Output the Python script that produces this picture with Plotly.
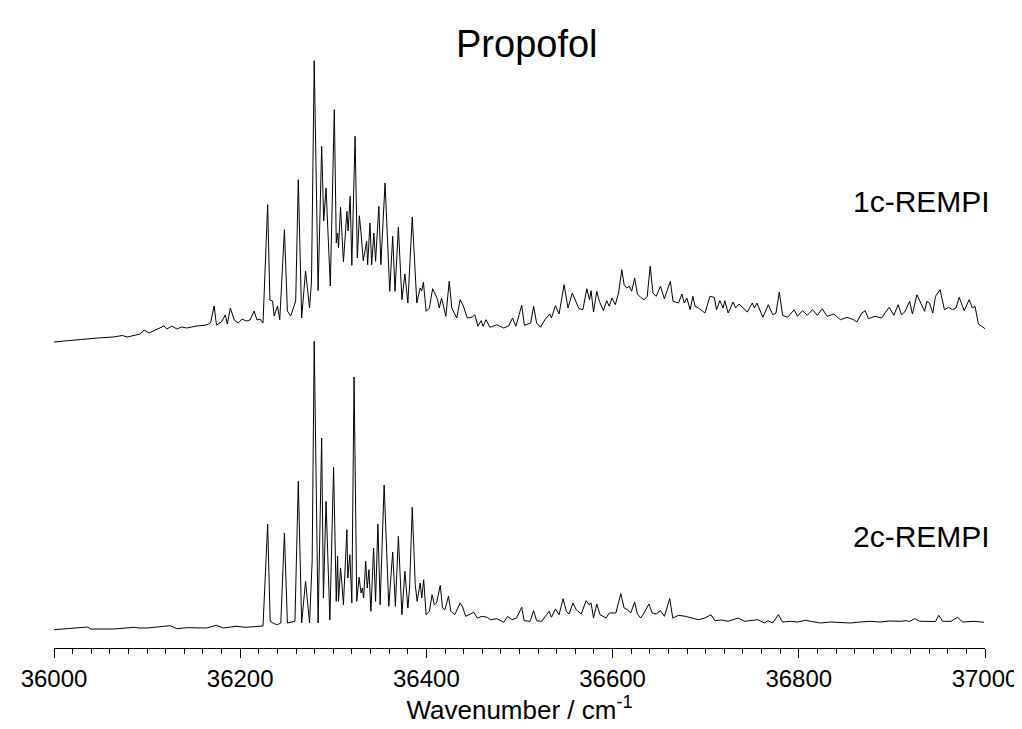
import plotly.graph_objects as go

# ---- data (wavenumber / cm-1, intensity in arbitrary units) ----
wn_1c = [36000, 36014.9, 36028.7, 36046.8, 36063.8, 36073.4, 36078.7, 36092.6, 36096.8, 36102.1,
         36110.6, 36118.1, 36121.3, 36126.6, 36131.9, 36137.2, 36142.5, 36153.2, 36163.8, 36168.1,
         36172.0, 36174.5, 36179.8, 36184.0, 36186.2, 36189.4, 36193.6, 36197.9, 36202.1, 36206.4,
         36210.6, 36214.9, 36218.1, 36221.3, 36224.5, 36229.5, 36231.9, 36234.8, 36236.5, 36240.1,
         36242.5, 36247.5, 36250.7, 36254.2, 36257.8, 36259.6, 36262.4, 36266.0, 36270.2, 36274.5,
         36276.6, 36279.5, 36283.7, 36287.5, 36289.7, 36292.2, 36296.8, 36301.1, 36303.2, 36304.6,
         36305.6, 36307.8, 36310.9, 36314.6, 36315.9, 36318.1, 36319.9, 36323.4, 36325.8, 36328.0,
         36329.8, 36332.2, 36335.8, 36336.9, 36339.4, 36341.2, 36343.6, 36345.4, 36348.9, 36351.1,
         36355.6, 36360.6, 36363.8, 36366.3, 36369.9, 36373.7, 36376.9, 36380.1, 36384.8, 36389.7,
         36393.3, 36395.0, 36396.8, 36399.7, 36403.2, 36406.7, 36410.3, 36412.0, 36413.8, 36416.3,
         36420.9, 36424.5, 36427.3, 36432.6, 36436.2, 36439.7, 36443.9, 36449.2, 36452.1, 36455.3,
         36458.8, 36460.9, 36464.1, 36468.1, 36475.8, 36483.0, 36488.3, 36492.5, 36496.1, 36502.4,
         36505.3, 36512.0, 36515.2, 36518.4, 36522.6, 36527.3, 36532.6, 36534.3, 36538.6, 36542.5,
         36547.9, 36552.1, 36556.7, 36560.9, 36563.8, 36568.1, 36572.3, 36575.2, 36576.9, 36579.5,
         36583.0, 36585.8, 36590.1, 36593.6, 36596.5, 36599.2, 36602.9, 36606.4, 36609.9, 36612.4,
         36615.2, 36617.8, 36620.5, 36623.7, 36626.6, 36630.1, 36633.7, 36637.2, 36640.4, 36643.3,
         36646.8, 36651.4, 36655.6, 36662.0, 36664.9, 36670.9, 36674.4, 36676.9, 36679.8, 36683.3,
         36686.2, 36688.6, 36692.2, 36699.2, 36704.6, 36709.2, 36711.7, 36715.2, 36718.8, 36720.5,
         36724.1, 36729.4, 36732.2, 36735.8, 36741.8, 36744.7, 36750.0, 36752.4, 36755.0, 36761.4,
         36767.3, 36772.0, 36775.5, 36779.0, 36782.6, 36788.0, 36795.0, 36798.6, 36803.9, 36809.2,
         36814.6, 36819.9, 36825.2, 36830.5, 36837.5, 36844.7, 36851.8, 36858.8, 36862.4, 36867.7,
         36871.3, 36874.8, 36881.9, 36889.0, 36892.5, 36897.1, 36902.1, 36906.7, 36910.3, 36913.8,
         36919.1, 36922.0, 36926.9, 36931.6, 36935.1, 36937.5, 36940.4, 36943.9, 36946.8, 36951.8,
         36956.4, 36960.9, 36965.2, 36968.8, 36972.3, 36977.6, 36983.0, 36986.5, 36989.3, 36992.9,
         36997.1, 37000]
int_1c = [1, 2, 3.5, 5, 6, 7.5, 6, 9, 13, 10,
          14, 17, 14, 17, 14, 16, 15, 17, 18, 20,
          37, 18, 21, 28, 19, 35, 23, 20, 24, 22,
          23, 32, 23, 24, 20, 138.3, 43, 42, 27, 37,
          23.3, 113.3, 32, 27, 37, 42, 163.3, 25, 72, 35,
          62, 282.3, 52.3, 196.7, 122, 155, 57, 233.3, 100, 110,
          95, 135.7, 81, 131.7, 112, 146.7, 77.7, 206.7, 85, 127.3,
          110, 82.3, 101.7, 78.3, 120, 78.3, 110, 81.7, 136.7, 78.3,
          160, 51.7, 106.7, 51.7, 115.7, 43.3, 69, 40, 126, 40,
          55, 52, 61, 31.7, 35, 54.3, 47, 43.3, 35, 45,
          26.7, 61.7, 35, 25, 43.3, 37, 25, 26, 28.3, 16.7,
          22.3, 16.7, 23.3, 15.7, 18.3, 15, 17, 25, 16.7, 37.7,
          17.7, 20, 36.7, 20, 15.7, 23.3, 29, 25, 37.3, 29,
          58.3, 35, 50, 40, 34.3, 33.3, 54.3, 43.3, 52.3, 31,
          51.7, 41.7, 32.3, 42.3, 36.7, 45, 38.3, 50, 73.3, 58.3,
          55, 56.7, 51.7, 65, 49, 45.7, 43.3, 46.7, 76.7, 50,
          46.7, 56.7, 44.3, 61.7, 41.7, 40, 49, 40, 45, 33.3,
          46.7, 36.7, 35, 30, 46.7, 45.7, 33.3, 42.3, 35, 42.3,
          30, 41, 35, 39, 33.3, 31, 40, 35, 40, 25.7,
          38.3, 28.3, 30, 51, 27.7, 25.7, 33.3, 26.7, 32.3, 27.7,
          33.3, 27.7, 34.3, 26.7, 29, 23.3, 25.7, 23.3, 21, 30,
          32.3, 24.3, 26.7, 25, 30, 35.7, 27.7, 38.3, 28.3, 31,
          41.7, 29, 48.3, 38.3, 31.7, 41.7, 40, 30, 46.7, 53.3,
          33.3, 35.7, 33.3, 35, 45.7, 32.3, 43.3, 35, 36.7, 19,
          16.7, 14.3]

wn_2c = [36000, 36036.2, 36039.4, 36064.6, 36085.8, 36091.2, 36100, 36124.8, 36131.9, 36142.5,
         36163.8, 36174.5, 36181.6, 36195.7, 36206.4, 36217.0, 36224.5, 36229.5, 36232.2, 36236.5,
         36240.1, 36243.6, 36247.5, 36250.7, 36256.1, 36258.8, 36262.4, 36266.0, 36270.2, 36274.5,
         36277.3, 36279.5, 36283.7, 36287.5, 36289.4, 36292.2, 36296.3, 36300.3, 36303.2, 36304.6,
         36305.6, 36307.8, 36309.2, 36310.9, 36314.6, 36315.6, 36317.8, 36319.9, 36322.3, 36325.2,
         36327.7, 36329.8, 36331.2, 36332.6, 36334.8, 36336.5, 36338.3, 36340.4, 36343.3, 36345.4,
         36347.9, 36350.3, 36354.6, 36359.6, 36363.8, 36366.7, 36369.9, 36373.7, 36376.9, 36380.1,
         36381.9, 36384.8, 36388.0, 36390.1, 36393.3, 36395.0, 36397.1, 36399.7, 36403.2, 36406.1,
         36408.5, 36410.9, 36414.9, 36417.3, 36419.9, 36423.7, 36426.3, 36430.5, 36436.2, 36438.6,
         36442.2, 36445.7, 36451.1, 36454.6, 36459.9, 36465.2, 36468.8, 36475.8, 36483.0, 36487.2,
         36491.8, 36496.8, 36502.4, 36505.0, 36511.4, 36515.2, 36518.4, 36523.7, 36529.0, 36531.9,
         36534.3, 36538.6, 36542.5, 36546.8, 36550.3, 36553.2, 36557.4, 36560.9, 36566.3, 36571.6,
         36574.5, 36576.9, 36579.5, 36583.0, 36586.5, 36592.9, 36596.5, 36603.5, 36608.8, 36612.4,
         36615.9, 36619.5, 36623.7, 36626.6, 36630.1, 36633.7, 36639.0, 36642.5, 36646.8, 36651.4,
         36655.6, 36661.4, 36664.6, 36670.9, 36678.0, 36685.1, 36692.2, 36699.2, 36705.6, 36709.9,
         36717.0, 36724.1, 36734.8, 36741.8, 36748.9, 36756.0, 36763.1, 36766.7, 36772.0, 36778.0,
         36782.6, 36791.5, 36798.6, 36807.4, 36812.7, 36823.4, 36834.0, 36844.7, 36855.3, 36865.9,
         36876.6, 36887.2, 36897.8, 36908.5, 36915.6, 36919.1, 36924.4, 36929.8, 36940.4, 36946.8,
         36950.3, 36954.6, 36963.5, 36970.5, 36975.8, 36988.3, 36998.9]
int_2c = [0.3, 3, 1, 1, 2.7, 2, 2, 4.3, 1.3, 2.3,
          2, 4.7, 2, 3.7, 2.7, 3.3, 4, 106, 8.7, 6.3,
          5.3, 7, 97, 7, 8, 8.7, 148.7, 7, 48.7, 7,
          69, 288.7, 7, 192, 32, 128.7, 10, 162.7, 28.7, 73.7,
          28.7, 62, 47, 25.3, 100.3, 52, 75.3, 27, 253, 28.7,
          52.7, 37, 42, 32, 68.7, 42, 60.3, 18.7, 82, 28.7,
          106, 25.3, 145, 23.7, 78, 23.7, 93.7, 15.3, 58.7, 22,
          42, 122.7, 45.3, 28.7, 47, 32, 50.3, 15.3, 18.7, 35.3,
          25.3, 27, 44.7, 22, 20.3, 33.7, 18.7, 15.3, 27, 23.7,
          13.7, 15.3, 17.7, 12, 13.7, 12.7, 10.3, 11.3, 7.7, 13.7,
          10.3, 12, 22.7, 9.3, 8.7, 19.3, 9.3, 8.7, 15.3, 18.7,
          12.7, 21, 15.3, 31.3, 18.7, 16, 27, 20.3, 16, 29.3,
          25.3, 27, 12, 26, 15.3, 12, 17, 17, 36.3, 22,
          20.3, 17, 28, 16, 12, 17, 26, 17, 16, 19.3,
          13.7, 31.3, 12, 14.7, 13.7, 12, 10.3, 12, 15.3, 9.3,
          10, 8.7, 12, 8.7, 9.3, 10.3, 7, 9.3, 7, 15.3,
          8, 8.7, 8, 9.7, 8.7, 7, 8, 7.7, 7, 8,
          8.7, 8, 9, 8.7, 9.3, 8.5, 11.3, 8.7, 9, 8.5,
          14.7, 8.7, 8.7, 12.7, 8, 8.7, 7.7]

offset_1c = 287  # vertical offset of the 1c-REMPI trace

FONT = "Arial, Liberation Sans, sans-serif"

fig = go.Figure()
fig.add_trace(go.Scatter(x=wn_1c, y=[v + offset_1c for v in int_1c], mode="lines",
                         line=dict(color="black", width=1), hoverinfo="skip"))
fig.add_trace(go.Scatter(x=wn_2c, y=int_2c, mode="lines",
                         line=dict(color="black", width=1), hoverinfo="skip"))

fig.update_layout(
    width=1022, height=729,
    margin=dict(l=46, r=36, t=40, b=89),
    plot_bgcolor="white", paper_bgcolor="white",
    showlegend=False,
    font=dict(family=FONT, color="black"),
)
fig.update_xaxes(
    range=[36000, 37000], showline=True, linecolor="black", linewidth=1,
    ticks="outside", ticklen=9, tickwidth=1, tickcolor="black",
    tick0=36000, dtick=200, tickformat="d",
    minor=dict(dtick=20, ticks="outside", ticklen=5, tickwidth=1, tickcolor="black"),
    showgrid=False, zeroline=False,
    tickfont=dict(size=24, family=FONT, color="black"),
    title=dict(text="Wavenumber / cm<sup>-1</sup>", font=dict(size=26, family=FONT, color="black"), standoff=2),
)
fig.update_yaxes(range=[-18, 582], visible=False)

fig.add_annotation(text="Propofol", x=0.5085, y=1.0067, xref="paper", yref="paper",
                   xanchor="center", yanchor="middle", showarrow=False,
                   font=dict(size=38, family=FONT, color="black"))
fig.add_annotation(text="1c-REMPI", x=1.008, y=offset_1c + 142, xref="paper", yref="y",
                   xanchor="right", yanchor="middle", showarrow=False,
                   font=dict(size=30, family=FONT, color="black"))
fig.add_annotation(text="2c-REMPI", x=1.008, y=94, xref="paper", yref="y",
                   xanchor="right", yanchor="middle", showarrow=False,
                   font=dict(size=30, family=FONT, color="black"))

fig.write_html("out.html")
